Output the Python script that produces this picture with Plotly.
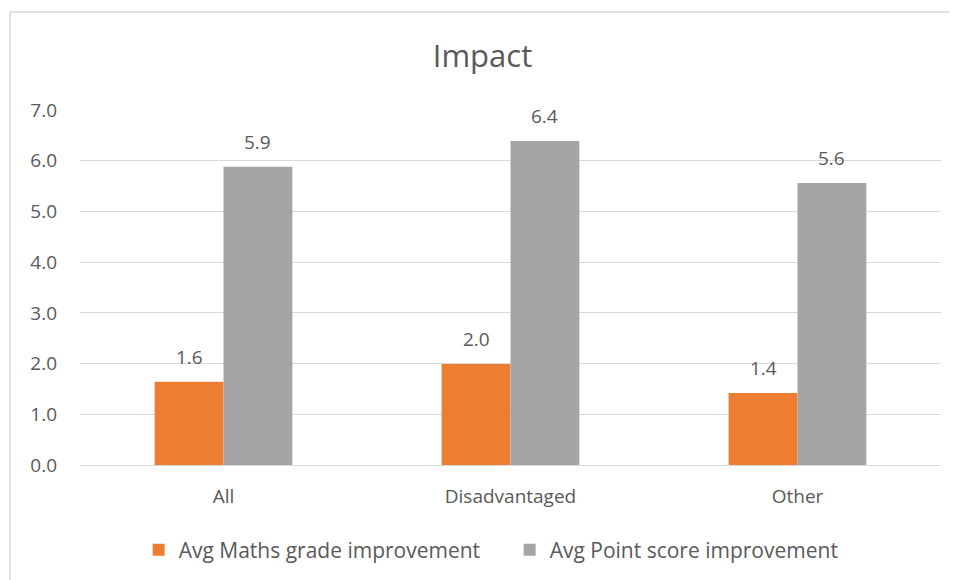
import plotly.graph_objects as go

categories = ["All", "Disadvantaged", "Other"]
maths_grade = [1.64, 1.99, 1.42]
point_score = [5.88, 6.39, 5.56]
series_names = ["Avg Maths grade improvement", "Avg Point score improvement"]
tick_vals = [0, 1, 2, 3, 4, 5, 6, 7]
tick_text = ["0.0", "1.0", "2.0", "3.0", "4.0", "5.0", "6.0", "7.0"]

FONT = "Open Sans"
TXT = "#595959"
BARGAP = 0.52
HALF = (1 - BARGAP) / 4  # offset of each bar centre from the category centre

fig = go.Figure()
fig.add_trace(go.Bar(x=categories, y=maths_grade, name=series_names[0],
                     marker=dict(color="#ED7D31", line=dict(width=0))))
fig.add_trace(go.Bar(x=categories, y=point_score, name=series_names[1],
                     marker=dict(color="#A5A5A5", line=dict(width=0))))

annotations = []
for i, (a, b) in enumerate(zip(maths_grade, point_score)):
    for val, off in ((a, -HALF), (b, HALF)):
        annotations.append(dict(x=i + off, y=val, xref="x", yref="y",
                                text=f"{val:.1f}", showarrow=False,
                                yanchor="middle", yshift=25,
                                font=dict(size=19, color=TXT, family=FONT)))

W, H = 949, 572
fig.update_layout(
    width=W, height=H,
    margin=dict(l=72, r=16, t=102, b=115, autoexpand=False),
    paper_bgcolor="white", plot_bgcolor="white",
    font=dict(family=FONT, color=TXT, size=19),
    title=dict(text="Impact", x=0.5, xref="container", xanchor="center",
               y=1 - 48 / H, yref="container", yanchor="middle",
               font=dict(size=31, color=TXT, family=FONT)),
    barmode="group", bargap=BARGAP, bargroupgap=0,
    showlegend=True,
    legend=dict(orientation="h", x=0.499, xanchor="center",
                y=1 - 542 / H, yref="container", yanchor="middle",
                font=dict(size=21, color=TXT, family=FONT), itemwidth=30,
                entrywidth=326, traceorder="normal"),
    xaxis=dict(showgrid=False, showline=False, ticks="", tickfont=dict(size=19, color=TXT),
               zeroline=False, ticklabelstandoff=18),
    yaxis=dict(range=[0, 7], tickvals=tick_vals, ticktext=tick_text,
               showgrid=True, gridcolor="#D9D9D9", gridwidth=1, zeroline=True,
               zerolinecolor="#D9D9D9", zerolinewidth=1, showline=False, ticks="",
               ticklabelstandoff=22, tickfont=dict(size=19, color=TXT)),
    annotations=annotations,
    shapes=[dict(type="rect", xref="paper", yref="paper",
                 x0=(2 - 72) / 861, x1=1.1, y0=-0.4, y1=(457 - 4) / 355,
                 line=dict(color="#D9D9D9", width=1.5), fillcolor="rgba(0,0,0,0)",
                 layer="below")],
)

fig.write_html("out.html")
